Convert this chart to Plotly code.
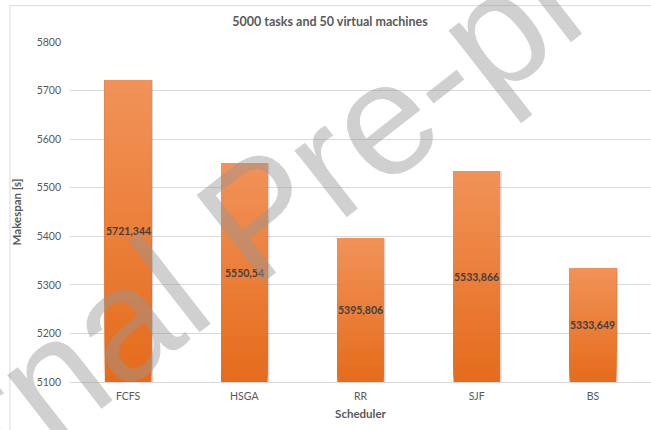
import plotly.graph_objects as go

# Makespan per scheduler (5000 tasks, 50 VMs)
schedulers = ["FCFS", "HSGA", "RR", "SJF", "BS"]
makespan = [5721.344, 5550.54, 5395.806, 5533.866, 5333.649]
y_ticks = [5100, 5200, 5300, 5400, 5500, 5600, 5700, 5800]

Y_MIN, Y_MAX = 5100, 5800
BAR_W = 0.4
TXT = "#595959"
FONT = "Lato"

fig = go.Figure()

# soft drop shadow behind each bar
fig.add_trace(go.Bar(
    x=schedulers, y=[v - Y_MIN for v in makespan], base=[Y_MIN] * len(makespan),
    width=BAR_W, offset=-BAR_W / 2 + 0.015,
    marker=dict(color="rgba(0,0,0,0.16)", line=dict(width=0)),
    hoverinfo="skip", showlegend=False,
))

# vertical gradient: stacked layers from dark (bottom) to light (top)
N = 48
bottom = (229, 108, 28)
top = (241, 146, 88)
for i in range(N):
    t = i / (N - 1)
    col = tuple(round(bottom[k] + (top[k] - bottom[k]) * t) for k in range(3))
    bases = [Y_MIN + (v - Y_MIN) * i / N for v in makespan]
    fig.add_trace(go.Bar(
        x=schedulers, y=[v - b for v, b in zip(makespan, bases)], base=bases,
        width=BAR_W,
        marker=dict(color="rgb(%d,%d,%d)" % col, line=dict(width=0)),
        hoverinfo="skip", showlegend=False,
    ))

# value labels centred in the visible part of each bar
for s, v in zip(schedulers, makespan):
    fig.add_annotation(
        x=s, y=(Y_MIN + v) / 2, xref="x", yref="y",
        text=repr(v).replace(".", ","), showarrow=False,
        font=dict(family=FONT, size=10.5, color="#404040", weight="bold"),
    )

# chart-area frame
fig.add_shape(type="rect", xref="paper", yref="paper",
              x0=-0.1033, x1=1.2, y0=-0.3, y1=1.1068,
              line=dict(color="#d9d9d9", width=1), fillcolor="rgba(0,0,0,0)",
              layer="below")

# watermark
fig.add_annotation(
    x=0.325, y=0.49, xref="paper", yref="paper",
    xanchor="center", yanchor="middle",
    text="Journal Pre-proof", showarrow=False, textangle=-38,
    font=dict(family="Liberation Sans", size=160, color="rgba(150,150,150,0.45)"),
)

fig.update_layout(
    width=651, height=430,
    margin=dict(l=70, r=0, t=42, b=48),
    paper_bgcolor="white", plot_bgcolor="white",
    barmode="overlay",
    showlegend=False,
    title=dict(
        text="5000 tasks and 50 virtual machines",
        x=(330) / 651, xanchor="center", y=1 - 22 / 430, yanchor="middle",
        font=dict(family=FONT, size=12.5, color=TXT, weight="bold"),
    ),
    xaxis=dict(
        title=dict(text="Scheduler", standoff=9,
                   font=dict(family=FONT, size=11.5, color=TXT, weight="bold")),
        tickfont=dict(family=FONT, size=10.5, color=TXT),
        showline=True, linecolor="#d9d9d9", linewidth=1,
        showgrid=False, ticks="", ticklabelstandoff=4, fixedrange=True,
    ),
    yaxis=dict(
        title=dict(text="Makespan [s]", standoff=12,
                   font=dict(family=FONT, size=11.5, color=TXT, weight="bold")),
        range=[Y_MIN, Y_MAX], tickvals=y_ticks,
        tickfont=dict(family=FONT, size=10.5, color=TXT),
        showgrid=True, gridcolor="#d9d9d9", gridwidth=1,
        zeroline=False, ticks="", ticklabelstandoff=8, fixedrange=True,
    ),
)

fig.write_html("out.html")
